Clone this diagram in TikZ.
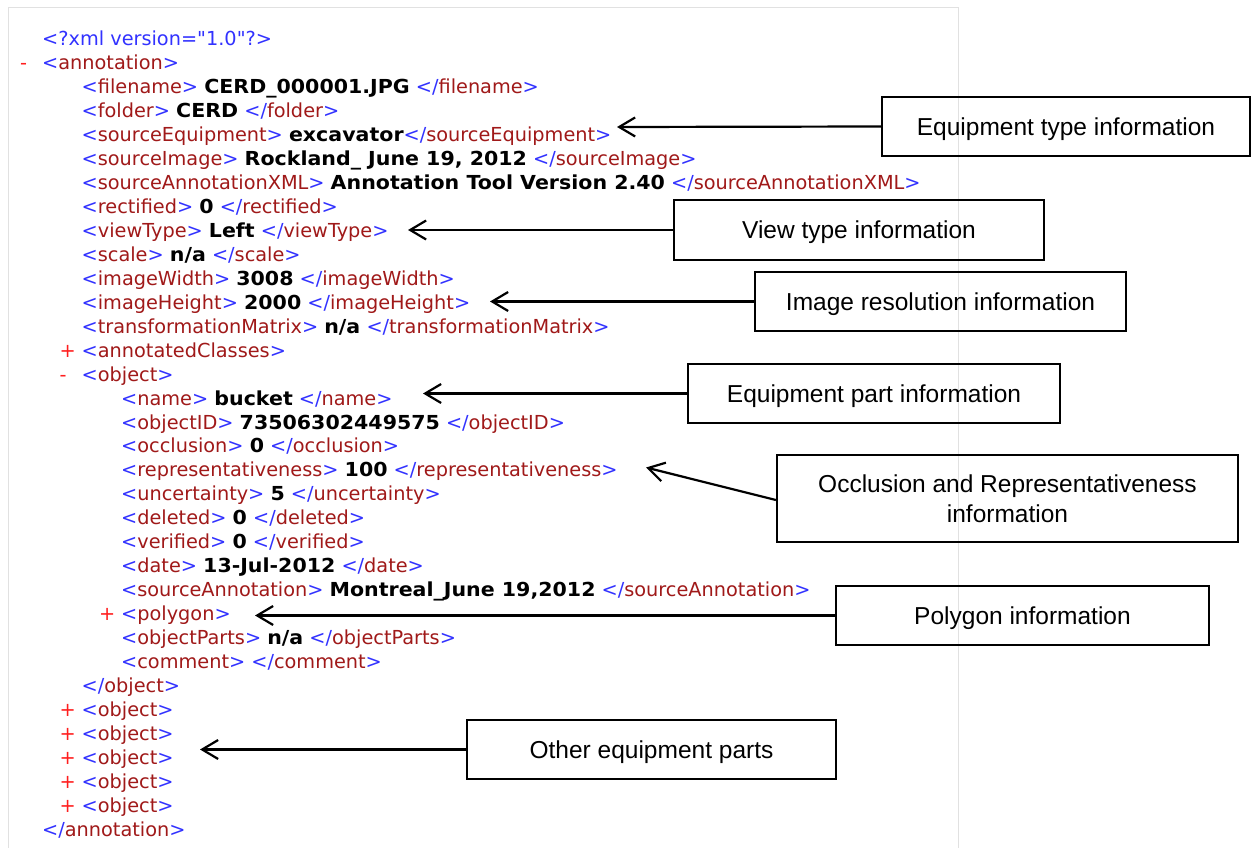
\documentclass[tikz,border=0pt]{standalone}
\usepackage{fontspec}
\usetikzlibrary{arrows.meta}
\newfontfamily\xmlfont{DejaVu Sans}[BoldFeatures={FakeStretch=1.065}]
\newfontfamily\lblfont{Liberation Sans}

\definecolor{tagblue}{RGB}{50,50,255}
\definecolor{tagred}{RGB}{160,25,25}
\definecolor{markred}{RGB}{255,30,30}
\definecolor{framegray}{RGB}{225,225,225}

% XML markup helpers
\newcommand\otag[1]{{\color{tagblue}<}{\color{tagred}#1}{\color{tagblue}>}}
\newcommand\ctag[1]{{\color{tagblue}</}{\color{tagred}#1}{\color{tagblue}>}}
\newcommand\val[1]{\textbf{#1}}

% one XML line: index, indent level, content
\newcommand\xl[3]{\node[xmltext] (l#1) at ({42+39.5*#2},{45.5+23.97*#1}) {#3};}
% fold marker in front of a line: index, indent level, sign
\newcommand\mk[3]{\node[marker] (m#1) at ({20+39.5*#2},{45.5+23.97*#1}) {#3};}

\tikzset{
  xmltext/.style={anchor=base west, inner sep=0pt, font=\xmlfont\fontsize{19.3}{23}\selectfont},
  marker/.style={anchor=base west, inner sep=0pt, text=markred, font=\xmlfont\fontsize{19.3}{23}\selectfont},
  infobox/.style={draw=black, line width=2.2pt, align=center, inner sep=0pt,
    font=\lblfont\fontsize{24.5}{29.5}\selectfont},
  oneline/.style={text height=17.5pt, text depth=0pt},
  pointer/.style={draw=black, line width=2.2pt, -{Straight Barb[length=16pt,width=19pt,line width=2.2pt]}}
}

\begin{document}
\begin{tikzpicture}[x=1pt,y=-1pt]
\useasboundingbox (0,0) rectangle (1251,848);
\fill[white] (0,0) rectangle (1251,848);
\draw[framegray, line width=1pt] (8,848) -- (8,8) -- (958,8) -- (958,848);

% XML listing
\xl{0}{0}{\color{tagblue}<?xml version="1.0"?>}
\mk{1}{0}{-}
\xl{1}{0}{\otag{annotation}}
\xl{2}{1}{\otag{filename} \val{CERD\_000001.JPG} \ctag{filename}}
\xl{3}{1}{\otag{folder} \val{CERD} \ctag{folder}}
\xl{4}{1}{\otag{sourceEquipment} \val{excavator}\ctag{sourceEquipment}}
\xl{5}{1}{\otag{sourceImage} \val{Rockland\_ June 19, 2012} \ctag{sourceImage}}
\xl{6}{1}{\otag{sourceAnnotationXML} \val{Annotation Tool Version 2.40} \ctag{sourceAnnotationXML}}
\xl{7}{1}{\otag{rectified} \val{0} \ctag{rectified}}
\xl{8}{1}{\otag{viewType} \val{Left} \ctag{viewType}}
\xl{9}{1}{\otag{scale} \val{n/a} \ctag{scale}}
\xl{10}{1}{\otag{imageWidth} \val{3008} \ctag{imageWidth}}
\xl{11}{1}{\otag{imageHeight} \val{2000} \ctag{imageHeight}}
\xl{12}{1}{\otag{transformationMatrix} \val{n/a} \ctag{transformationMatrix}}
\mk{13}{1}{+}
\xl{13}{1}{\otag{annotatedClasses}}
\mk{14}{1}{-}
\xl{14}{1}{\otag{object}}
\xl{15}{2}{\otag{name} \val{bucket} \ctag{name}}
\xl{16}{2}{\otag{objectID} \val{73506302449575} \ctag{objectID}}
\xl{17}{2}{\otag{occlusion} \val{0} \ctag{occlusion}}
\xl{18}{2}{\otag{representativeness} \val{100} \ctag{representativeness}}
\xl{19}{2}{\otag{uncertainty} \val{5} \ctag{uncertainty}}
\xl{20}{2}{\otag{deleted} \val{0} \ctag{deleted}}
\xl{21}{2}{\otag{verified} \val{0} \ctag{verified}}
\xl{22}{2}{\otag{date} \val{13-Jul-2012} \ctag{date}}
\xl{23}{2}{\otag{sourceAnnotation} \val{Montreal\_June 19,2012} \ctag{sourceAnnotation}}
\mk{24}{2}{+}
\xl{24}{2}{\otag{polygon}}
\xl{25}{2}{\otag{objectParts} \val{n/a} \ctag{objectParts}}
\xl{26}{2}{\otag{comment} \ctag{comment}}
\xl{27}{1}{\ctag{object}}
\foreach \i in {28,...,32}{
  \mk{\i}{1}{+}
  \xl{\i}{1}{\otag{object}}
}
\xl{33}{0}{\ctag{annotation}}

% callout boxes
\node[infobox, oneline, minimum width=368pt, minimum height=59pt] (equip) at (1066,126.5) {Equipment type information};
\node[infobox, oneline, minimum width=370pt, minimum height=60pt] (view) at (859,230) {View type information};
\node[infobox, oneline, minimum width=371pt, minimum height=59pt] (res) at (940.5,301.5) {Image resolution information};
\node[infobox, oneline, minimum width=372pt, minimum height=59pt] (part) at (874,393.5) {Equipment part information};
\node[infobox, minimum width=461pt, minimum height=87pt] (occ) at (1007.5,498.5) {Occlusion and Representativeness\\information};
\node[infobox, oneline, minimum width=373pt, minimum height=59pt] (poly) at (1022.5,615.5) {Polygon information};
\node[infobox, oneline, minimum width=369pt, minimum height=59pt] (other) at (651.5,749.5) {Other equipment parts};

% arrow targets
\coordinate (tEquip) at (617,127);
\coordinate (tView) at (408,230);
\coordinate (tRes) at (490,301.5);
\coordinate (tPart) at (423,393.5);
\coordinate (tOcc) at (646,467.5);
\coordinate (tPoly) at (255,615.5);
\coordinate (tOther) at (200,749.5);

\draw[pointer] (equip.west) -- (tEquip);
\draw[pointer] (view.west) -- (tView);
\draw[pointer] (res.west) -- (tRes);
\draw[pointer] (part.west) -- (tPart);
\draw[pointer] ([yshift=-1.5pt]occ.west) -- (tOcc);
\draw[pointer] (poly.west) -- (tPoly);
\draw[pointer] (other.west) -- (tOther);
\end{tikzpicture}
\end{document}
